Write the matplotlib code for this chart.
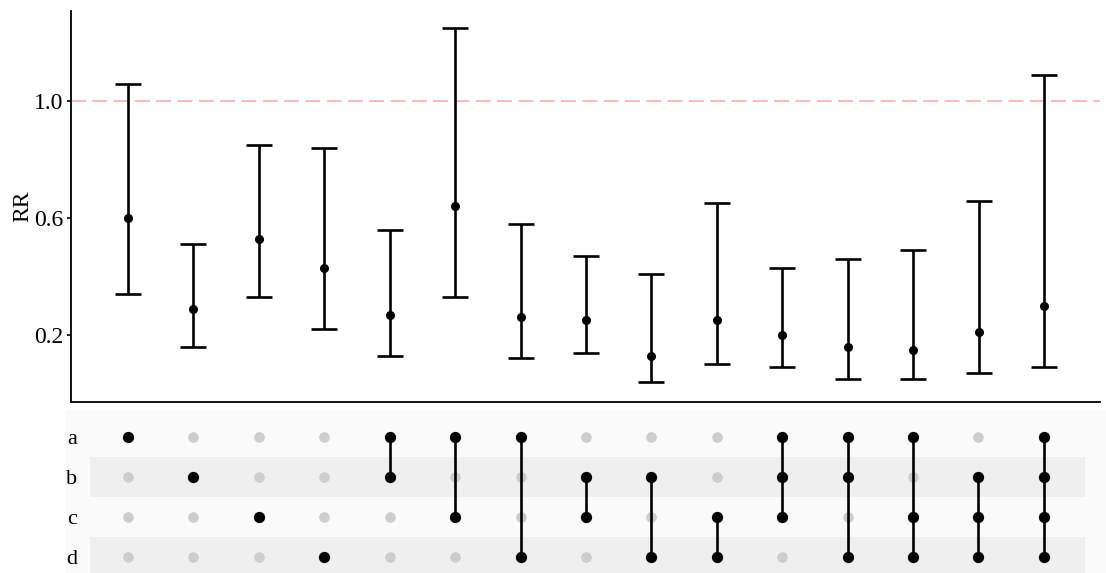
import numpy as np
import matplotlib.pyplot as plt

plt.rcParams['font.family'] = ['Liberation Serif', 'DejaVu Serif']

# ---------- DATA ----------
rr = [0.60, 0.29, 0.53, 0.43, 0.27, 0.64, 0.26, 0.25, 0.13, 0.25, 0.20, 0.16, 0.15, 0.21, 0.30]
lower = [0.34, 0.16, 0.33, 0.22, 0.13, 0.33, 0.12, 0.14, 0.04, 0.10, 0.09, 0.05, 0.05, 0.07, 0.09]
upper = [1.06, 0.51, 0.85, 0.84, 0.56, 1.25, 0.58, 0.47, 0.41, 0.65, 0.43, 0.46, 0.49, 0.66, 1.09]
groups = ['a', 'b', 'c', 'd']
combos = ['a', 'b', 'c', 'd', 'ab', 'ac', 'ad', 'bc', 'bd', 'cd',
          'abc', 'abd', 'acd', 'bcd', 'abcd']
y_ticks = [0.2, 0.6, 1.0]

rr = np.array(rr)
lower = np.array(lower)
upper = np.array(upper)
x = np.arange(1, len(combos) + 1)

W, H = 1106, 573
fig = plt.figure(figsize=(W / 100, H / 100), dpi=100)

# ---------- TOP: RR with intervals ----------
ax = fig.add_axes([70.7 / W, (H - 402) / H, (1100 - 70.7) / W, (402 - 11) / H])
ax.axhline(1.0, color='#f4b6b6', lw=1.3, ls=(0, (8.3, 3.5)), zorder=0)
ax.errorbar(x, rr, yerr=[rr - lower, upper - rr], fmt='o', color='black',
            ms=5.5, elinewidth=1.9, capsize=9.4, capthick=1.9)
ax.set_xlim(0.124, 15.856)
ax.set_ylim(-0.029, 1.308)
ax.set_yticks(y_ticks)
ax.set_yticklabels([f'{v:.1f}' for v in y_ticks])
ax.set_xticks([])
ax.set_ylabel('RR', fontsize=17, labelpad=1)
ax.tick_params(axis='y', labelsize=17, length=3, width=1.2, pad=2)
for s in ['top', 'right']:
    ax.spines[s].set_visible(False)
for s in ['left', 'bottom']:
    ax.spines[s].set_linewidth(1.3)

# ---------- BOTTOM: set matrix ----------
bx = fig.add_axes([65 / W, 0, (W - 65) / W, (H - 410) / H])
bx.set_facecolor('#fafafa')
bx.set_xlim(0.037, 15.95)
bx.set_ylim(3.41, -0.69)
for i in range(len(groups)):
    if i % 2 == 1:
        bx.fill_between([0.42, 15.63], i - 0.5, i + 0.5, color='#efefef', lw=0, zorder=0)

for xi, combo in zip(x, combos):
    on = [groups.index(g) for g in combo]
    off = [i for i in range(len(groups)) if i not in on]
    bx.scatter([xi] * len(off), off, s=58, color='#cdcdcd', lw=0, zorder=2)
    if len(on) > 1:
        bx.plot([xi, xi], [min(on), max(on)], color='black', lw=1.9, zorder=3)
    bx.scatter([xi] * len(on), on, s=66, color='black', lw=0, zorder=4)

bx.set_xticks([])
bx.set_yticks(range(len(groups)))
bx.set_yticklabels(groups)
bx.tick_params(axis='y', labelsize=16, length=0, pad=-9)
for s in bx.spines.values():
    s.set_visible(False)

fig.savefig('out.png', dpi=100)
